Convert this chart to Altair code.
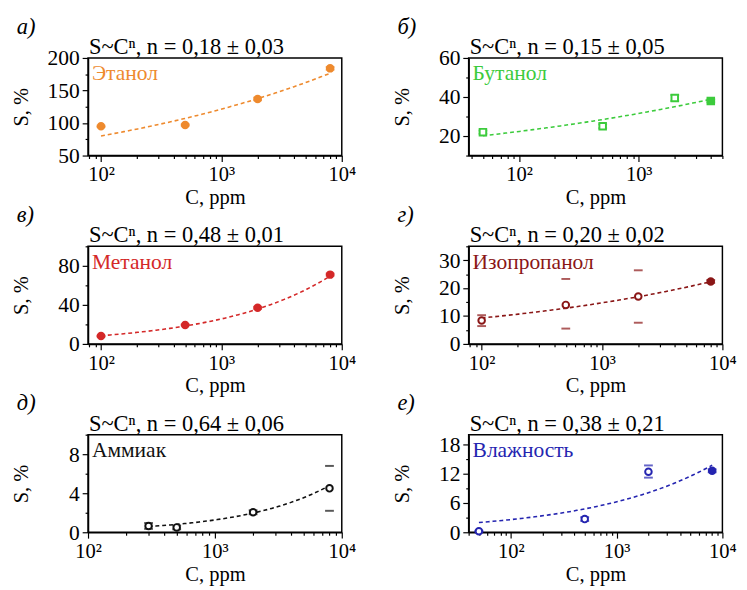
import altair as alt
import pandas as pd

FONT = "'Liberation Serif', 'Times New Roman', serif"

# ---------------- panel texts ----------------
LETTERS = ["а)", "б)", "в)", "г)", "д)", "е)"]
NAMES = ["Этанол", "Бутанол", "Метанол", "Изопропанол", "Аммиак", "Влажность"]
FORMULAS = [
    "S~Cⁿ, n = 0,18 ± 0,03",
    "S~Cⁿ, n = 0,15 ± 0,05",
    "S~Cⁿ, n = 0,48 ± 0,01",
    "S~Cⁿ, n = 0,20 ± 0,02",
    "S~Cⁿ, n = 0,64 ± 0,06",
    "S~Cⁿ, n = 0,38 ± 0,21",
]
COLORS = ["#EE8A2E", "#3CCB3C", "#D42828", "#8A1616", "#111111", "#2424B0"]
SHAPES = ["circle", "square", "circle", "circle", "circle", "circle"]

# ---------------- measured points ----------------
ETHANOL_C = [100, 500, 2000, 8000]
ETHANOL_S = [95, 97, 137, 184]
ETHANOL_LO = [94, 96, 135, 182]
ETHANOL_HI = [96, 98, 139, 186]
ETHANOL_FILLED = [1, 1, 1, 1]

BUTANOL_C = [50, 500, 2000, 4000]
BUTANOL_S = [22, 25, 39.5, 38]
BUTANOL_LO = [21.2, 24, 38, 37.3]
BUTANOL_HI = [22.8, 26, 41, 38.7]
BUTANOL_FILLED = [0, 0, 0, 1]

METHANOL_C = [100, 500, 2000, 8000]
METHANOL_S = [8, 19.5, 37, 71]
METHANOL_LO = [7.5, 19, 36, 70]
METHANOL_HI = [8.5, 20, 38, 72]
METHANOL_FILLED = [1, 1, 1, 1]

ISOPROPANOL_C = [100, 500, 2000, 8000]
ISOPROPANOL_S = [8.4, 14, 17, 22.4]
ISOPROPANOL_LO = [6.4, 5.5, 7.6, 21.9]
ISOPROPANOL_HI = [10.3, 23.3, 26.4, 22.9]
ISOPROPANOL_FILLED = [0, 0, 0, 1]

AMMONIA_C = [300, 500, 2000, 8000]
AMMONIA_S = [0.65, 0.5, 2.05, 4.5]
AMMONIA_LO = [0.35, 0.3, 1.85, 2.2]
AMMONIA_HI = [0.95, 0.7, 2.25, 6.8]
AMMONIA_FILLED = [0, 0, 0, 0]

HUMIDITY_C = [50, 500, 2000, 8000]
HUMIDITY_S = [0.2, 2.7, 12.4, 12.6]
HUMIDITY_LO = [0.1, 2.3, 11.2, 12.3]
HUMIDITY_HI = [0.3, 3.1, 13.7, 12.9]
HUMIDITY_FILLED = [0, 0, 0, 1]

# ---------------- power-law fits S = A * C^n ----------------
FIT_A = [35.0, 11.2, 0.93, 3.7, 0.0152, 0.452]
FIT_N = [0.18, 0.15, 0.48, 0.20, 0.64, 0.38]
FIT_FROM = [100, 50, 100, 100, 300, 50]
FIT_TO = [8000, 4000, 8000, 8000, 8000, 8000]

# ---------------- axes ----------------
X_DOMAINS = [[78, 10000], [38, 5000], [78, 10000], [78, 10000], [100, 10000], [40, 10000]]
Y_DOMAINS = [[50, 200], [10, 60], [0, 100], [0, 35], [0, 10], [0, 20]]
Y_MAJOR = [[50, 100, 150, 200], [20, 40, 60], [0, 40, 80], [0, 10, 20, 30], [0, 4, 8], [0, 6, 12, 18]]
Y_MINOR = [[75, 125, 175], [10, 30, 50], [20, 60, 100], [5, 15, 25, 35], [2, 6, 10], [3, 9, 15]]

SERIES = [
    (ETHANOL_C, ETHANOL_S, ETHANOL_LO, ETHANOL_HI, ETHANOL_FILLED),
    (BUTANOL_C, BUTANOL_S, BUTANOL_LO, BUTANOL_HI, BUTANOL_FILLED),
    (METHANOL_C, METHANOL_S, METHANOL_LO, METHANOL_HI, METHANOL_FILLED),
    (ISOPROPANOL_C, ISOPROPANOL_S, ISOPROPANOL_LO, ISOPROPANOL_HI, ISOPROPANOL_FILLED),
    (AMMONIA_C, AMMONIA_S, AMMONIA_LO, AMMONIA_HI, AMMONIA_FILLED),
    (HUMIDITY_C, HUMIDITY_S, HUMIDITY_LO, HUMIDITY_HI, HUMIDITY_FILLED),
]

W, H = 260, 100

LOGV = "(log(datum.value)/LN10)"
IS_DECADE = f"abs({LOGV} - round({LOGV})) < 0.001"
X_LABEL = (
    f"({IS_DECADE}) ? ('10' + (round({LOGV}) == 1 ? '¹' : round({LOGV}) == 2 ? '²' : "
    f"round({LOGV}) == 3 ? '³' : '⁴')) : ''"
)


def x_ticks(domain):
    vals = []
    for k in range(1, 5):
        for d in range(1, 10):
            v = d * 10 ** k
            if domain[0] <= v <= domain[1]:
                vals.append(v)
    return vals


def panel(i):
    c, s, lo, hi, filled = SERIES[i]
    color = COLORS[i]
    df = pd.DataFrame({"C": c, "S": s, "lo": lo, "hi": hi, "filled": filled})
    xdom, ydom = X_DOMAINS[i], Y_DOMAINS[i]
    major = Y_MAJOR[i]
    yvals = sorted(major + Y_MINOR[i])
    ytest = "indexof(" + str(major) + ", datum.value) >= 0"

    xscale = alt.Scale(type="log", domain=xdom, nice=False)
    yscale = alt.Scale(domain=ydom, nice=False, zero=False)

    xaxis = alt.Axis(
        title="C, ppm", values=x_ticks(xdom), labelExpr=X_LABEL,
        tickSize={"condition": {"test": IS_DECADE, "value": 6}, "value": 3},
        labelFontSize=21, labelPadding=3, titlePadding=2,
        labelFlush=False, labelOverlap=False, grid=False,
    )
    yaxis = alt.Axis(
        title="S, %", values=yvals,
        labelExpr=f"{ytest} ? datum.label : ''",
        tickSize={"condition": {"test": ytest, "value": 6}, "value": 3},
        labelFontSize=22, labelPadding=3, titleX=-62, titleBaseline="alphabetic",
        labelFlush=False, labelOverlap=False, grid=False,
    )

    lg_from = f"(log({FIT_FROM[i]})/LN10)"
    lg_to = f"(log({FIT_TO[i]})/LN10)"
    fit = (
        alt.Chart(alt.sequence(0, 1.0001, 0.02, as_="t"))
        .transform_calculate(C=f"pow(10, {lg_from} + datum.t * ({lg_to} - {lg_from}))")
        .transform_calculate(S=f"{FIT_A[i]} * pow(datum.C, {FIT_N[i]})")
        .mark_line(color=color, strokeDash=[4, 3], strokeWidth=1.6)
        .encode(
            x=alt.X("C:Q", scale=xscale, axis=xaxis),
            y=alt.Y("S:Q", scale=yscale, axis=yaxis),
        )
    )

    caps = (
        alt.Chart(df)
        .transform_fold(["lo", "hi"], as_=["end", "val"])
        .mark_tick(orient="horizontal", color=color, size=9, thickness=2)
        .encode(
            x=alt.X("C:Q", scale=xscale, axis=xaxis),
            y=alt.Y("val:Q", scale=yscale, axis=yaxis),
        )
    )

    pts = (
        alt.Chart(df)
        .mark_point(shape=SHAPES[i], size=45, strokeWidth=2, opacity=1, filled=False)
        .encode(
            x=alt.X("C:Q", scale=xscale, axis=xaxis),
            y=alt.Y("S:Q", scale=yscale, axis=yaxis),
            stroke=alt.value(color),
            fill=alt.condition("datum.filled == 1", alt.value(color), alt.value("white")),
        )
    )

    formula = (
        alt.Chart(pd.DataFrame({"t": [FORMULAS[i]]}))
        .mark_text(align="left", baseline="alphabetic", font=FONT, fontSize=23, color="black")
        .encode(x=alt.value(1), y=alt.value(-4), text="t:N")
    )
    name = (
        alt.Chart(pd.DataFrame({"t": [NAMES[i]]}))
        .mark_text(align="left", baseline="alphabetic", font=FONT, fontSize=22, color=color)
        .encode(x=alt.value(4), y=alt.value(23), text="t:N")
    )

    return alt.layer(fit, caps, pts, formula, name).properties(
        width=W, height=H,
        title=alt.TitleParams(
            text=LETTERS[i], anchor="start", frame="bounds", font=FONT,
            fontSize=23, fontStyle="italic", fontWeight="normal", color="black",
            offset=-2, dx=6,
        ),
    )


chart = (
    alt.concat(*[panel(i) for i in range(6)], columns=2,
               spacing={"row": 93, "column": 130}, bounds="flush")
    .properties(padding={"left": 2, "top": 0, "right": 2, "bottom": 0}, background="white")
    .configure_view(stroke="black", strokeWidth=1.5)
    .configure_axis(
        labelFont=FONT, labelColor="black", labelOverlap=False,
        titleFont=FONT, titleFontSize=21, titleFontWeight="normal", titleColor="black",
        tickColor="black", tickWidth=1.2, domainColor="black", domainWidth=1.5,
    )
)

chart.save("out.html", embed_options={"renderer": "svg", "actions": False})
